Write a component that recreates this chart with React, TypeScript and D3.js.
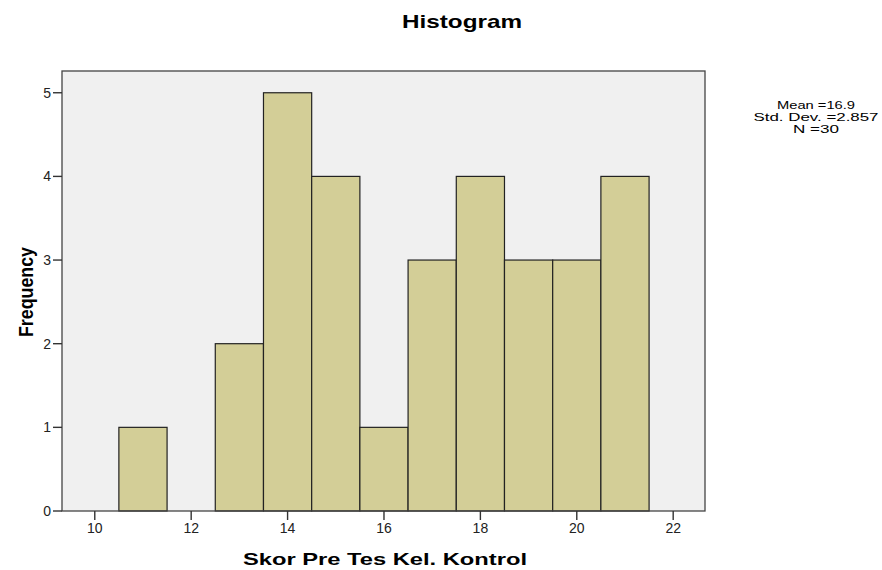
import React from "react";
import * as d3 from "d3";

const binStarts = [10.5, 11.5, 12.5, 13.5, 14.5, 15.5, 16.5, 17.5, 18.5, 19.5, 20.5];
const counts = [1, 0, 2, 5, 4, 1, 3, 4, 3, 3, 4];
const xTicks = [10, 12, 14, 16, 18, 20, 22];
const yTicks = [0, 1, 2, 3, 4, 5];
const statsLines = ["Mean =16.9", "Std. Dev. =2.857", "N =30"];
const statsWidths = [78, 125, 46];
const binWidth = 1;

export default function App() {
  const W = 882, H = 570;
  const left = 62, right = 705, top = 71, bottom = 511;
  const x = d3.scaleLinear().domain([9.32, 22.66]).range([left, right]);
  const y = d3.scaleLinear().domain([0, 5.26]).range([bottom, top]);
  const font = "Arial, 'Liberation Sans', sans-serif";
  return (
    <svg width={W} height={H} style={{ position: "absolute", left: 0, top: 0, background: "#fff" }} fontFamily={font}>
      <text x={462} y={28} textAnchor="middle" fontSize={19} fontWeight="bold" fill="#000"
        textLength={120} lengthAdjust="spacingAndGlyphs">Histogram</text>
      <rect x={left} y={top} width={right - left} height={bottom - top} fill="#f0f0f0" stroke="none" />
      {binStarts.map((b, i) =>
        counts[i] > 0 ? (
          <rect key={i} x={x(b)} y={y(counts[i])} width={x(b + binWidth) - x(b)} height={y(0) - y(counts[i])}
            fill="#d3ce97" stroke="#222" strokeWidth={1.2} />
        ) : null
      )}
      <rect x={left} y={top} width={right - left} height={bottom - top} fill="none" stroke="#444" strokeWidth={1.3} />
      {yTicks.map(t => (
        <g key={t}>
          <line x1={left - 9} x2={left} y1={y(t)} y2={y(t)} stroke="#333" strokeWidth={1.4} />
          <text x={left - 11} y={y(t)} dy="0.36em" textAnchor="end" fontSize={14} fill="#222">{t}</text>
        </g>
      ))}
      {xTicks.map(t => (
        <g key={t}>
          <line x1={x(t)} x2={x(t)} y1={bottom} y2={bottom + 9} stroke="#333" strokeWidth={1.4} />
          <text x={x(t)} y={bottom + 22} textAnchor="middle" fontSize={14} fill="#222">{t}</text>
        </g>
      ))}
      <text x={385} y={565} textAnchor="middle" fontSize={16.5} fontWeight="bold" fill="#000"
        textLength={284} lengthAdjust="spacingAndGlyphs">Skor Pre Tes Kel. Kontrol</text>
      <text transform={`translate(33, 292) rotate(-90)`} textAnchor="middle" fontSize={20} fontWeight="bold" fill="#000"
        textLength={90} lengthAdjust="spacingAndGlyphs">Frequency</text>
      {statsLines.map((s, i) => (
        <text key={i} x={816} y={109 + i * 11.8} textAnchor="middle" fontSize={11.5} fill="#000"
          textLength={statsWidths[i]} lengthAdjust="spacingAndGlyphs">{s}</text>
      ))}
    </svg>
  );
}
